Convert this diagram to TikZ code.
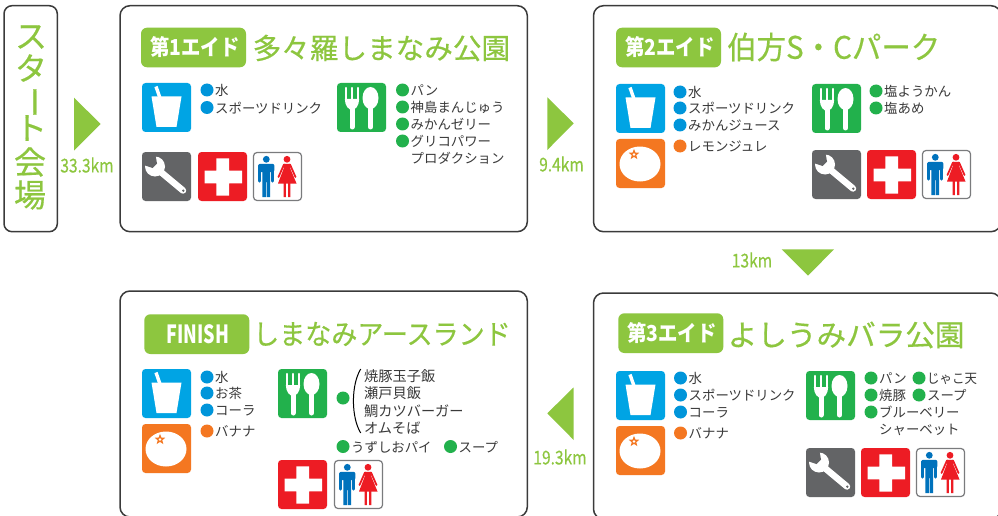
\documentclass[tikz,border=0pt]{standalone}
\usepackage{fontspec}
\setmainfont{Noto Sans CJK JP}
\newfontfamily\heavyfont[FakeBold=0.5]{Noto Sans CJK JP}
\usetikzlibrary{calc}
\definecolor{lime}{HTML}{8DC63F}
\definecolor{icblue}{HTML}{00A4E4}
\definecolor{icgreen}{HTML}{22B14C}
\definecolor{icorange}{HTML}{F47721}
\definecolor{icgray}{HTML}{636466}
\definecolor{icred}{HTML}{ED1C24}
\definecolor{manblue}{HTML}{0072BC}
\definecolor{dotblue}{HTML}{0095DA}
\definecolor{inkgray}{HTML}{3A3A3A}
\newcounter{nid}
\tikzset{
  panel/.style={draw=inkgray,line width=1.5pt,fill=white,rounded corners=10pt},
  badge/.style={fill=lime,rounded corners=6pt},
  tile/.style={rounded corners=3.5pt},
  label/.style={anchor=west,inner sep=0pt,text=inkgray,font=\fontsize{13.4}{14}\selectfont},
  biglabel/.style={label,font=\fontsize{14.2}{15}\selectfont},
  title/.style={anchor=west,inner sep=0pt,text=lime},
  kmlabel/.style={inner sep=0pt,text=lime,font=\heavyfont\fontsize{19}{20}\selectfont},
  startch/.style={inner sep=0pt,text=lime,font=\heavyfont\fontsize{32}{34}\selectfont},
  badgetext/.style={inner sep=0pt,text=white},
  wedge/.style={fill=lime}
}
\newcommand{\lbl}[3]{\stepcounter{nid}\node[label] (n\thenid) at (#1,#2) {#3};}
\newcommand{\biglbl}[3]{\stepcounter{nid}\node[biglabel] (n\thenid) at (#1,#2) {#3};}
\newcommand{\dotlbl}[5]{\fill[#1] (#2,#3) circle (6.5);\stepcounter{nid}\node[label] (n\thenid) at (#2+8,#3+.5) {#4};}
\newcommand{\iconCup}[2]{\begin{scope}[shift={(#1,#2)}]
  \fill[icblue,tile] (0,0) rectangle (49,49);
  \fill[white] (9.5,13.5) -- (39.5,13.5) -- (34.5,44) -- (14.5,44) -- cycle;
  \draw[white,line width=3.4pt] (14,3.5) -- (18,15);
\end{scope}}
\newcommand{\iconFood}[2]{\begin{scope}[shift={(#1,#2)}]
  \fill[icgreen,tile] (0,0) rectangle (49,49);
  \draw[white,line width=5pt,line cap=round] (15,22) -- (15,44);
  \draw[white,line width=2.3pt,line cap=round] (9,5) -- (9,18) (15,5) -- (15,18) (21,5) -- (21,18);
  \fill[white] (7.85,16) .. controls (7.85,23) and (12,27) .. (15,27) .. controls (18,27) and (22.15,23) .. (22.15,16) -- cycle;
  \fill[white] (33.5,15) ellipse (8 and 11);
  \draw[white,line width=5pt,line cap=round] (33.5,20) -- (33.5,44);
\end{scope}}
\newcommand{\iconOrange}[2]{\begin{scope}[shift={(#1,#2)}]
  \fill[icorange,tile] (0,0) rectangle (49,49);
  \fill[white] (24,25) ellipse (20.5 and 17.5);
  \begin{scope}[shift={(18,15.5)}]
  \fill[icorange] (-90:5.6) -- (-54:2.4) -- (-18:5.6) -- (18:2.4) -- (54:5.6) -- (90:2.4) -- (126:5.6) -- (162:2.4) -- (198:5.6) -- (234:2.4) -- cycle;
  \fill[white] (0,0) circle (1.3);
  \end{scope}
\end{scope}}
\newcommand{\iconTool}[2]{\begin{scope}[shift={(#1,#2)}]
  \fill[icgray,tile] (0,0) rectangle (49,49);
  \draw[white,line width=6.5pt,line cap=round] (14,16) -- (41,38.5);
  \fill[white] (13,14.5) circle (10);
  \fill[icgray] (3,13.5) -- (10.5,16) -- (15,11.5) -- (13.5,3) -- (1,1) -- (0,13) -- cycle;
  \fill[icgray] (41.3,38.7) circle (1.3);
\end{scope}}
\newcommand{\iconCross}[2]{\begin{scope}[shift={(#1,#2)}]
  \fill[icred,tile] (0,0) rectangle (49,49);
  \fill[white] (18.3,6.3) rectangle (31,43.7) (6.5,18.7) rectangle (44,31.3);
\end{scope}}
\newcommand{\iconToilet}[2]{\begin{scope}[shift={(#1,#2)}]
  \draw[icgray!85,line width=1.2pt,fill=white,tile] (.5,.5) rectangle (48.5,48.5);
  \fill[manblue] (13.3,7.3) circle (3.4);
  \draw[manblue,line width=3.2pt,line cap=round] (6.8,14) -- (6.8,29) (19.8,14) -- (19.8,29);
  \fill[manblue,rounded corners=2pt] (5.2,11.8) rectangle (21.4,20);
  \fill[manblue] (9.4,14) rectangle (17.2,30) (9.4,28) rectangle (12.9,45) (13.7,28) rectangle (17.2,45);
  \fill[icred] (34,7.3) circle (3.4);
  \fill[icred] (31,11.8) -- (37,11.8) -- (37.5,17) -- (43.5,31.5) -- (25,31.5) -- (30.5,17) -- cycle;
  \draw[icred,line width=1.8pt,line cap=round] (31,12.5) -- (25.5,25) (37,12.5) -- (42.5,25);
  \fill[icred] (30.7,31) rectangle (32.9,45) (35.1,31) rectangle (37.3,45);
\end{scope}}
\begin{document}
\begin{tikzpicture}[x=1pt,y=-1pt]
\useasboundingbox (0,0) rectangle (998,516);
\clip (0,0) rectangle (998,516);
% panels
\draw[panel,rounded corners=8pt] (4,5.7) rectangle (57.3,231.7);
\draw[panel] (120,5.7) rectangle (527.3,231.7);
\draw[panel] (593.5,5.7) rectangle (1001,231.7);
\draw[panel] (120,291) rectangle (527.3,517);
\draw[panel] (593.5,293) rectangle (1001,519);
% start
\node[startch] (s1) at (31,37) {ス};
\node[startch] (s2) at (31,68) {タ};
\node[startch,rotate=-90] (s3) at (29.5,102) {ー};
\node[startch] (s4) at (31,128) {ト};
\node[startch] (s5) at (30,162) {会};
\node[startch] (s6) at (30,195) {場};
% arrows
\fill[wedge] (74,97.7) -- (100.7,124) -- (74,150.7) -- cycle;
\node[kmlabel] (k1) at (87,165) {\scalebox{.82}[1]{33.3km}};
\fill[wedge] (547.3,97.3) -- (573.7,123.3) -- (547.3,150) -- cycle;
\node[kmlabel] (k2) at (561.5,164) {\scalebox{.82}[1]{9.4km}};
\fill[wedge] (781.7,249.3) -- (834,249.3) -- (808,275.7) -- cycle;
\node[kmlabel] (k3) at (752,260) {\scalebox{.82}[1]{13km}};
\fill[wedge] (573.7,387.3) -- (547.3,413.3) -- (573.7,440) -- cycle;
\node[kmlabel] (k4) at (560,457) {\scalebox{.82}[1]{19.3km}};
% badges and titles
\fill[badge] (141,27.7) rectangle (246,67.3);
\node[badgetext,font=\fontsize{22}{24}\bfseries\selectfont] (b1) at (195,47.5) {\scalebox{.88}[1]{第1エイド}};
\node[title,font=\heavyfont\fontsize{28.6}{30}\selectfont] (t1) at (252.5,48) {多々羅しまなみ公園};
\fill[badge] (616,27.7) rectangle (721,67.3);
\node[badgetext,font=\fontsize{22}{24}\bfseries\selectfont] (b2) at (670,47.5) {\scalebox{.88}[1]{第2エイド}};
\node[title,font=\heavyfont\fontsize{31}{33}\selectfont] (t2) at (727,47) {\scalebox{.95}[1]{伯方S・Cパーク}};
\fill[badge] (144.3,314.3) rectangle (249.3,354);
\node[badgetext,font=\fontsize{25}{27}\bfseries\selectfont] (b3) at (197.8,334.5) {\scalebox{.72}[1]{FINISH}};
\node[title,font=\heavyfont\fontsize{28}{30}\selectfont] (t3) at (253,334) {\scalebox{.93}[1]{しまなみアースランド}};
\fill[badge] (618.3,313.3) rectangle (723.3,353);
\node[badgetext,font=\fontsize{22}{24}\bfseries\selectfont] (b4) at (672,333) {\scalebox{.88}[1]{第3エイド}};
\node[title,font=\heavyfont\fontsize{29.6}{31}\selectfont] (t4) at (727.5,335) {よしうみバラ公園};
% panel 1
\iconCup{142}{83}\iconFood{337}{83}\iconTool{142}{152}\iconCross{198}{152}\iconToilet{253}{152}
\dotlbl{dotblue}{207}{90}{水}{}
\dotlbl{dotblue}{207}{107.5}{スポーツドリンク}{}
\dotlbl{icgreen}{402.5}{90}{パン}{}
\dotlbl{icgreen}{402.5}{107}{神島まんじゅう}{}
\dotlbl{icgreen}{402.5}{124}{みかんゼリー}{}
\dotlbl{icgreen}{402.5}{141}{グリコパワー}{}
\lbl{410.5}{158.5}{プロダクション}
% panel 2
\iconCup{616}{84}\iconFood{812}{84}\iconOrange{616}{139}\iconTool{812}{150}\iconCross{867}{150}\iconToilet{922}{150}
\dotlbl{dotblue}{680}{92}{水}{}
\dotlbl{dotblue}{680}{108}{スポーツドリンク}{}
\dotlbl{dotblue}{680}{125}{みかんジュース}{}
\dotlbl{icorange}{680}{146}{レモンジュレ}{}
\dotlbl{icgreen}{876}{91}{塩ようかん}{}
\dotlbl{icgreen}{876}{108}{塩あめ}{}
% panel finish
\iconCup{142}{369}\iconOrange{142}{424}\iconFood{278}{369}\iconCross{278}{460}\iconToilet{334}{460}
\dotlbl{dotblue}{207}{377}{水}{}
\dotlbl{dotblue}{207}{393}{お茶}{}
\dotlbl{dotblue}{207}{410}{コーラ}{}
\dotlbl{icorange}{207}{431}{バナナ}{}
\fill[icgreen] (343,398) circle (6.5);
\draw[black,line width=1pt] (360.7,369) .. controls (351,385) and (351,417) .. (360.7,433);
\biglbl{364}{376.5}{焼豚玉子飯}
\biglbl{364}{393.5}{瀬戸貝飯}
\biglbl{364}{411}{鯛カツバーガー}
\biglbl{364}{428}{オムそば}
\dotlbl{icgreen}{343}{446.5}{うずしおパイ}{}
\dotlbl{icgreen}{450.5}{446.5}{スープ}{}
% panel 3
\iconCup{616}{371}\iconOrange{616}{426}\iconFood{806}{371}\iconTool{806}{448}\iconCross{861}{448}\iconToilet{916}{448}
\dotlbl{dotblue}{680.5}{378}{水}{}
\dotlbl{dotblue}{680.5}{395}{スポーツドリンク}{}
\dotlbl{dotblue}{680.5}{412}{コーラ}{}
\dotlbl{icorange}{680.5}{433}{バナナ}{}
\dotlbl{icgreen}{871}{378}{パン}{}
\dotlbl{icgreen}{919}{378}{\scalebox{.93}[1]{じゃこ天}}{}
\dotlbl{icgreen}{871}{395}{焼豚}{}
\dotlbl{icgreen}{919}{395}{スープ}{}
\dotlbl{icgreen}{871}{412}{ブルーベリー}{}
\lbl{879}{429.5}{シャーベット}
\end{tikzpicture}
\end{document}
